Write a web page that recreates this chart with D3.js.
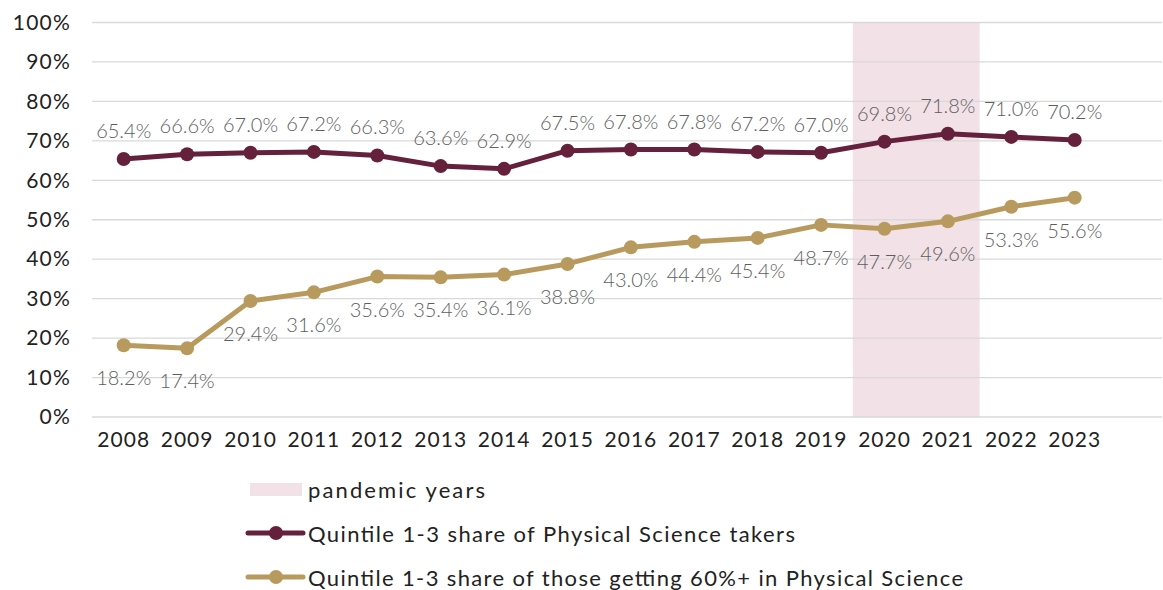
<!DOCTYPE html>
<html><head><meta charset="utf-8">
<script src="https://cdn.jsdelivr.net/npm/d3@7"></script>
<style>
body{margin:0;background:#fff;}
svg{display:block;font-family:Lato,"Open Sans",sans-serif;}
</style></head>
<body><svg id="c" width="1163" height="590"></svg>
<script>
const years = ["2008","2009","2010","2011","2012","2013","2014","2015","2016","2017","2018","2019","2020","2021","2022","2023"];
const takers = [65.4,66.6,67.0,67.2,66.3,63.6,62.9,67.5,67.8,67.8,67.2,67.0,69.8,71.8,71.0,70.2];
const achievers = [18.2,17.4,29.4,31.6,35.6,35.4,36.1,38.8,43.0,44.4,45.4,48.7,47.7,49.6,53.3,55.6];
const yTicks = [0,10,20,30,40,50,60,70,80,90,100];
const pandemicYears = ["2020","2021"];
const legendLabels = ["pandemic years","Quintile 1-3 share of Physical Science takers","Quintile 1-3 share of those getting 60%+ in Physical Science"];

(function(){
const maroon = "#65213B", gold = "#B99A5E", band = "#F2E1E7";
const svg = d3.select("#c");
const left = 92, gridRight = 1162, plotTop = 22.5, plotBottom = 417;
const x = d3.scaleBand().domain(years).range([left, left + 16*63.4]).paddingInner(0).paddingOuter(0);
const y = d3.scaleLinear().domain([0,100]).range([plotBottom, plotTop]);
const cx = d => x(d) + x.bandwidth()/2;

svg.append("rect")
  .attr("x", x(pandemicYears[0])).attr("y", y(100))
  .attr("width", x(pandemicYears[1]) + x.bandwidth() - x(pandemicYears[0]))
  .attr("height", y(0) - y(100)).attr("fill", band);

svg.append("g").selectAll("line").data(yTicks).join("line")
  .attr("x1", left).attr("x2", gridRight)
  .attr("y1", d => y(d)).attr("y2", d => y(d))
  .attr("stroke", "#d9d9d9").attr("stroke-width", 1.3);

const yAxis = svg.append("g").attr("transform", `translate(${left-21},0)`)
  .call(d3.axisLeft(y).tickValues(yTicks).tickFormat(d => d + "%").tickSize(0).tickPadding(0));
yAxis.select(".domain").remove();
yAxis.selectAll("text").attr("font-size", 21).attr("letter-spacing", 1.2).attr("fill", "#222").attr("font-family", "Lato,sans-serif");

const xAxis = svg.append("g").attr("transform", `translate(0,${plotBottom+15})`)
  .call(d3.axisBottom(x).tickSize(0).tickPadding(0));
xAxis.select(".domain").remove();
xAxis.selectAll("text").attr("font-size", 21).attr("letter-spacing", 1).attr("fill", "#222").attr("font-family", "Lato,sans-serif").attr("dy", "0.71em");

function drawSeries(vals, color, labelDy) {
  const pts = years.map((yr, i) => [cx(yr), y(vals[i])]);
  svg.append("path").attr("d", d3.line()(pts)).attr("fill", "none")
    .attr("stroke", color).attr("stroke-width", 5).attr("stroke-linejoin", "round");
  svg.append("g").selectAll("circle").data(pts).join("circle")
    .attr("cx", d => d[0]).attr("cy", d => d[1]).attr("r", 7).attr("fill", color);
  svg.append("g").selectAll("text").data(vals).join("text")
    .attr("x", (d, i) => cx(years[i])).attr("y", d => y(d) + labelDy)
    .attr("text-anchor", "middle").attr("dominant-baseline", "central")
    .attr("font-size", 20).attr("font-weight", 300).attr("fill", "#5e5e5e")
    .text(d => d.toFixed(1) + "%");
}
drawSeries(takers, maroon, -29);
drawSeries(achievers, gold, 32);

const lg = svg.append("g");
lg.append("rect").attr("x", 250).attr("y", 483).attr("width", 52).attr("height", 13).attr("fill", band);
lg.append("text").attr("x", 308).attr("y", 489.5).attr("dominant-baseline", "central")
  .attr("font-size", 22).attr("fill", "#222")
  .attr("textLength", 177).attr("lengthAdjust", "spacing").text(legendLabels[0]);
[[maroon, 533, legendLabels[1], 487], [gold, 577, legendLabels[2], 655]].forEach(([c, yy, t, w]) => {
  lg.append("line").attr("x1", 248).attr("x2", 303).attr("y1", yy).attr("y2", yy)
    .attr("stroke", c).attr("stroke-width", 5).attr("stroke-linecap", "round");
  lg.append("circle").attr("cx", 276).attr("cy", yy).attr("r", 7).attr("fill", c);
  lg.append("text").attr("x", 308).attr("y", yy).attr("dominant-baseline", "central")
    .attr("font-size", 22).attr("fill", "#222")
    .attr("textLength", w).attr("lengthAdjust", "spacing").text(t);
});
})();
</script></body></html>
